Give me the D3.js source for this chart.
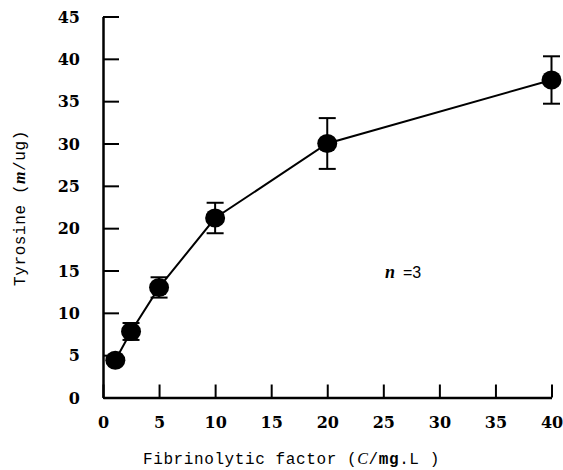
<!DOCTYPE html>
<html>
<head>
<meta charset="utf-8">
<script src="https://cdn.jsdelivr.net/npm/d3@7"></script>
<style>
  html, body { margin: 0; padding: 0; background: #fff; }
  svg { display: block; }
</style>
</head>
<body>
<svg id="chart" width="563" height="470"></svg>
<script>
// ---- data ----
const concentrations = [1.1, 2.5, 5, 10, 20, 40];
const tyrosine = [4.4, 7.8, 13.0, 21.2, 30.0, 37.5];
const errors = [0.3, 1.0, 1.2, 1.8, 3.0, 2.8];
const xTicks = [0, 5, 10, 15, 20, 25, 30, 35, 40];
const yTicks = [0, 5, 10, 15, 20, 25, 30, 35, 40, 45];
const xTitle = "Fibrinolytic factor";
const yTitle = "Tyrosine";
const annotation = "=3";

const svg = d3.select("#chart");
const x = d3.scaleLinear().domain([0, 40]).range([103, 551.5]);
const y = d3.scaleLinear().domain([0, 45]).range([397.5, 16.5]);

const tickFont = "'DejaVu Serif', serif";

// axes (ticks inward)
const xAxis = d3.axisBottom(x).tickValues(xTicks).tickSizeInner(-13).tickSizeOuter(0).tickPadding(0);
const yAxis = d3.axisLeft(y).tickValues(yTicks).tickSizeInner(-16).tickSizeOuter(0).tickPadding(0);

const gx = svg.append("g").attr("transform", `translate(0,${y(0)})`).call(xAxis);
const gy = svg.append("g").attr("transform", `translate(${x(0)},0)`).call(yAxis);

[gx, gy].forEach(g => {
  g.select(".domain").attr("stroke", "#000").attr("stroke-width", 2.5);
  g.selectAll(".tick line").attr("stroke", "#000").attr("stroke-width", 2);
  g.selectAll(".tick text")
    .attr("fill", "#000")
    .style("font-family", tickFont)
    .style("font-weight", "bold")
    .style("font-size", "16px");
});
gx.selectAll(".tick text").attr("y", 30).attr("dy", 0);
gy.selectAll(".tick text").attr("x", -23).attr("dy", "0.36em");

// x axis title
const monoFont = "'Liberation Mono', monospace";
const xt = svg.append("text")
  .attr("x", 143).attr("y", 464)
  .style("font-family", monoFont)
  .style("font-size", "16px")
  .style("letter-spacing", "0.6px")
  .attr("fill", "#000");
xt.append("tspan").text(xTitle + " (");
xt.append("tspan").text("C").style("font-style", "italic").style("font-family", "'Liberation Serif', serif");
xt.append("tspan").text("/");
xt.append("tspan").text("mg").style("font-weight", "bold");
xt.append("tspan").text(".L  )");

// y axis title
const yt = svg.append("text")
  .attr("transform", `translate(25,${208})rotate(-90)`)
  .attr("text-anchor", "middle")
  .style("font-family", monoFont)
  .style("font-size", "16px")
  .style("letter-spacing", "0.6px")
  .attr("fill", "#000");
yt.append("tspan").text(yTitle + " (");
yt.append("tspan").text("m").style("font-style", "italic").style("font-weight", "bold").style("font-family", "'Liberation Serif', serif");
yt.append("tspan").text("/ug)");

// line
const line = d3.line().x((d, i) => x(concentrations[i])).y(d => y(d));
svg.append("path")
  .datum(tyrosine)
  .attr("d", line)
  .attr("fill", "none")
  .attr("stroke", "#000")
  .attr("stroke-width", 2);

// error bars
const eb = svg.append("g").attr("stroke", "#000").attr("stroke-width", 2);
tyrosine.forEach((v, i) => {
  const cx = x(concentrations[i]);
  const top = y(v + errors[i]), bot = y(v - errors[i]);
  eb.append("line").attr("x1", cx).attr("x2", cx).attr("y1", top).attr("y2", bot);
  eb.append("line").attr("x1", cx - 8.5).attr("x2", cx + 8.5).attr("y1", top).attr("y2", top);
  eb.append("line").attr("x1", cx - 8.5).attr("x2", cx + 8.5).attr("y1", bot).attr("y2", bot);
});

// points
svg.append("g").selectAll("ellipse")
  .data(tyrosine)
  .join("ellipse")
  .attr("cx", (d, i) => x(concentrations[i]))
  .attr("cy", d => y(d))
  .attr("rx", 10)
  .attr("ry", 9.5)
  .attr("fill", "#000");

// annotation n = 3
const ann = svg.append("text")
  .attr("x", 385).attr("y", 278)
  .attr("fill", "#000");
ann.append("tspan").text("n")
  .style("font-family", "'Liberation Serif', serif")
  .style("font-style", "italic")
  .style("font-weight", "bold")
  .style("font-size", "18px");
ann.append("tspan").text(annotation)
  .attr("dx", 8)
  .style("font-family", "'Liberation Sans', sans-serif")
  .style("font-size", "16px");
</script>
</body>
</html>
